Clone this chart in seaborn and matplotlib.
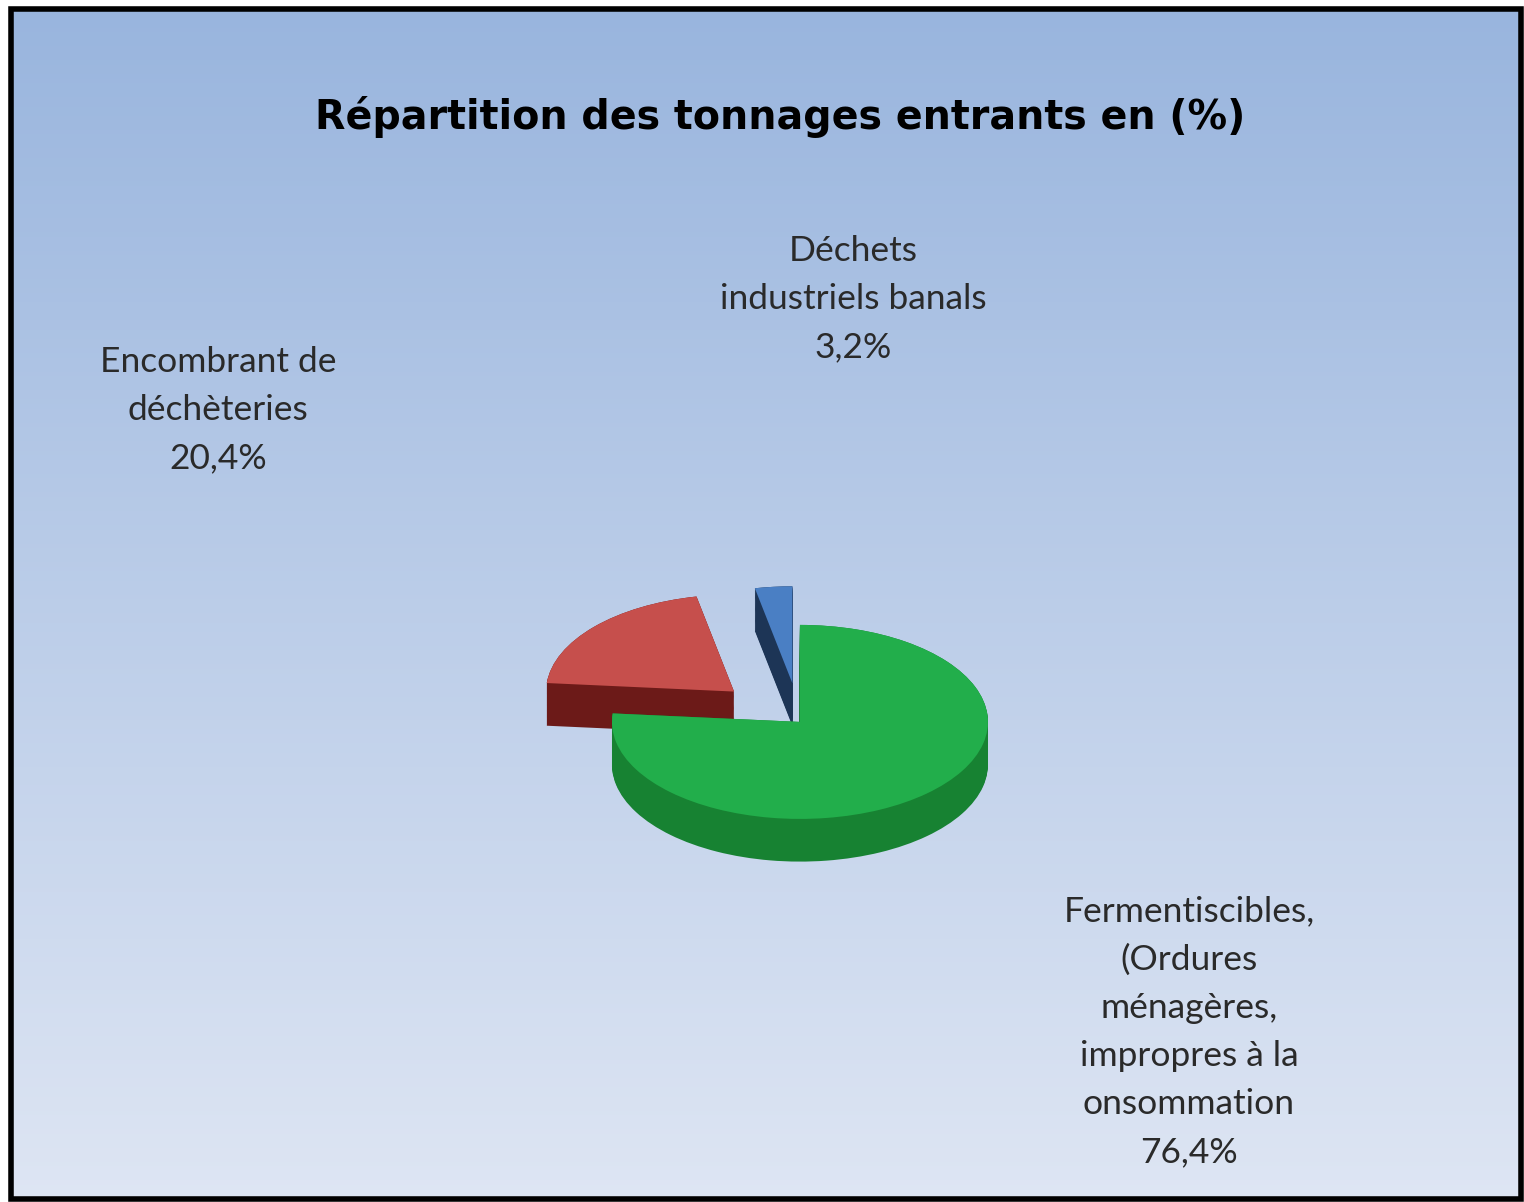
import numpy as np
import matplotlib
matplotlib.use("Agg")
import matplotlib.pyplot as plt
import seaborn as sns
from matplotlib.patches import Rectangle

# data
categories = ["Fermentiscibles,\n(Ordures\nménagères,\nimpropres à la\nonsommation",
              "Encombrant de\ndéchèteries",
              "Déchets\nindustriels banals"]
shares = [76.4, 20.4, 3.2]
explode = [0.0, 0.47, 0.4]

top_colors = ["#22ae4b", "#c64f4c", "#4a7fc4"]
side_colors = ["#178232", "#6c1a18", "#1d3556"]

# label anchor positions (pixels from top-left)
label_pos = [(1189, 1032), (218, 410), (853, 299)]

sns.set_theme(style="white")
plt.rcParams['font.family'] = ['Lato', 'DejaVu Sans']

W, H = 1524, 1202
fig = plt.figure(figsize=(W / 100, H / 100), dpi=100)
fig.patch.set_facecolor("white")

# background gradient + frame
bg = fig.add_axes([0, 0, 1, 1])
bg.set_xlim(0, W)
bg.set_ylim(H, 0)
bg.axis("off")
grad = np.linspace(0, 1, 256).reshape(-1, 1)
top_c = np.array([0.60, 0.71, 0.87])
bot_c = np.array([0.87, 0.90, 0.955])
img = top_c + (bot_c - top_c) * grad[..., None]
img = np.repeat(img, 2, axis=1)
bg.imshow(img, extent=(11, 1521, 1199, 9), aspect="auto", zorder=0)
bg.add_patch(Rectangle((11, 9), 1510, 1190, fill=False, lw=4, ec="black", zorder=2))

# pseudo 3D pie
ax = fig.add_axes([0.2782, 0.2380, 0.4934, 0.3228])
depth = 0.44
for k in np.linspace(depth, 0.0, 40):
    ax.pie(shares, colors=side_colors, startangle=90, counterclock=False,
           explode=explode, center=(0, -k), radius=1.0,
           wedgeprops=dict(linewidth=0))
ax.pie(shares, colors=top_colors, startangle=90, counterclock=False,
       explode=explode, center=(0, 0), radius=1.0,
       wedgeprops=dict(linewidth=0))
ax.set_aspect("auto")
ax.set_xlim(-2, 2)
ax.set_ylim(-2, 2)
ax.axis("off")

# title
fig.text(780 / W, 1 - 117 / H, "Répartition des tonnages entrants en (%)",
         ha="center", va="center", fontsize=28.5, fontweight="bold",
         family=["DejaVu Sans"], color="black")

# labels
for name, val, (px, py) in zip(categories, shares, label_pos):
    txt = f"{name}\n{val:.1f}%".replace(".", ",")
    fig.text(px / W, 1 - py / H, txt, ha="center", va="center",
             fontsize=25.5, linespacing=1.62, color="#2a2a2a")

fig.savefig("out.png", dpi=100)
